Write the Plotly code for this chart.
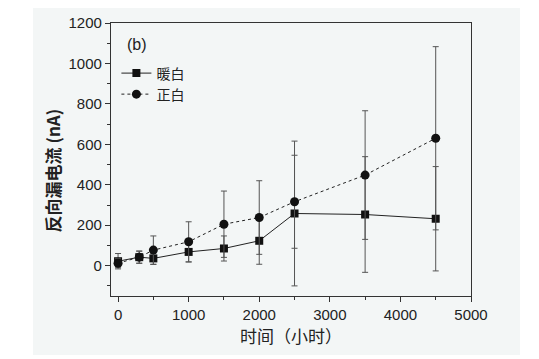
import plotly.graph_objects as go

hours_warm = [0, 300, 500, 1000, 1500, 2000, 2500, 3500, 4500]
warm_current = [22, 42, 36, 68, 85, 123, 258, 253, 232]
warm_err = [38, 30, 30, 50, 62, 116, 358, 286, 258]

hours_pos = [0, 300, 500, 1000, 1500, 2000, 2500, 3500, 4500]
pos_current = [12, 42, 77, 118, 205, 238, 316, 448, 630]
pos_err = [22, 30, 70, 99, 164, 182, 230, 318, 453]

series_names = ["暖白", "正白"]
x_title = "时间（小时）"
y_title = "<b>反向漏电流 (nA)</b>"

fig = go.Figure()
fig.add_trace(go.Scatter(
    x=hours_warm, y=warm_current, name=series_names[0], mode="lines+markers",
    line=dict(color="#222222", width=1),
    marker=dict(symbol="square", size=8, color="#111111"),
    error_y=dict(type="data", array=warm_err, visible=True, color="#555555", thickness=1, width=3),
    legend="legend",
))
fig.add_trace(go.Scatter(
    x=hours_pos, y=pos_current, name=series_names[1], mode="lines+markers",
    line=dict(color="#222222", width=1, dash="dot"),
    marker=dict(symbol="circle", size=9, color="#111111"),
    error_y=dict(type="data", array=pos_err, visible=True, color="#555555", thickness=1, width=3),
    legend="legend2",
))

fig.add_shape(type="rect", xref="paper", yref="paper", x0=-0.2167, x1=1.136, y0=-0.216, y1=1.084,
              fillcolor="#f3f6f6", line=dict(width=0), layer="below")

fig.add_annotation(x=0.04, y=0.92, xref="paper", yref="paper", text="(b)", showarrow=False,
                   xanchor="left", yanchor="middle", font=dict(size=16, family="Liberation Sans", color="#222222"))
fig.add_annotation(x=-0.164, y=0.46, xref="paper", yref="paper", text=y_title, showarrow=False,
                   textangle=-90, xanchor="center", yanchor="middle",
                   font=dict(size=17, family="Noto Sans CJK SC", color="#222222"))

axis_font = dict(family="Liberation Sans, Arial, sans-serif", size=15, color="#222222")
legend_common = dict(x=0.015, xanchor="left", yanchor="middle", bgcolor="rgba(0,0,0,0)",
                     font=dict(size=14, family="Noto Sans CJK SC", color="#222222"), itemwidth=30)
fig.update_layout(
    width=539, height=359,
    margin=dict(l=103, r=76, t=15, b=71, autoexpand=False),
    paper_bgcolor="white", plot_bgcolor="rgba(0,0,0,0)",
    font=dict(family="Noto Sans CJK SC, Liberation Sans, sans-serif", color="#222222"),
    legend=dict(y=0.815, **legend_common),
    legend2=dict(y=0.738, **legend_common),
    showlegend=True,
)
fig.update_xaxes(
    range=[-100, 5000], tickvals=[0, 1000, 2000, 3000, 4000, 5000], automargin=False,
    ticks="outside", ticklen=5, tickwidth=1, tickcolor="#333333",
    minor=dict(dtick=500, tick0=0, ticks="outside", ticklen=3, tickcolor="#333333"),
    showline=True, linecolor="#333333", linewidth=1.3, mirror=True,
    showgrid=False, zeroline=False, tickfont=axis_font,
    title=dict(text=x_title, font=dict(size=17, family="Noto Sans CJK SC", color="#222222"), standoff=8),
)
fig.update_yaxes(
    range=[-150, 1200], tickvals=[0, 200, 400, 600, 800, 1000, 1200], automargin=False,
    ticks="outside", ticklen=5, tickwidth=1, tickcolor="#333333",
    minor=dict(dtick=100, tick0=0, ticks="outside", ticklen=3, tickcolor="#333333"),
    showline=True, linecolor="#333333", linewidth=1.3, mirror=True,
    showgrid=False, zeroline=False, tickfont=axis_font,
)

fig.write_html("out.html")
